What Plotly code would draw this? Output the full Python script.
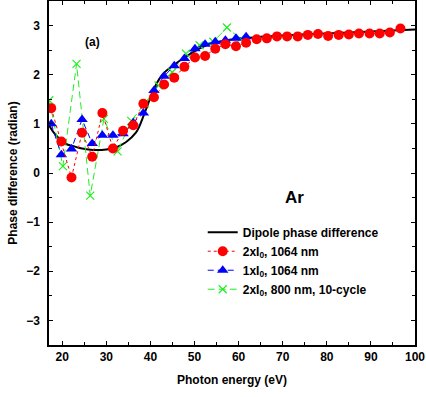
import plotly.graph_objects as go

# Dipole phase difference (black curve)
dip_e = [17, 18, 19.4, 20.9, 22.4, 23.9, 26.9, 30, 32.2, 34.5, 36.7, 37.5, 38.3, 39.2, 40.3, 41.4, 42.9, 45.2, 47.4, 50.5, 52.7, 55.7, 58, 65, 70, 80, 90, 100]
dip_v = [0.97, 0.83, 0.69, 0.59, 0.55, 0.51, 0.47, 0.48, 0.52, 0.63, 0.82, 0.95, 1.13, 1.34, 1.61, 1.82, 2.02, 2.19, 2.33, 2.50, 2.60, 2.67, 2.71, 2.77, 2.8, 2.84, 2.88, 2.92]

# 2xI0, 1064 nm (red circles)
red_e = [17.5, 19.8, 22.1, 24.5, 26.8, 29.1, 31.5, 33.8, 36.1, 38.4, 40.8, 43.1, 45.4, 47.7,
         50.1, 52.4, 54.7, 57.0, 59.4, 61.7, 64.1, 66.4, 68.7, 71.0, 73.4, 75.7, 78.0, 80.3,
         82.7, 85.0, 87.3, 89.7, 92.0, 94.3, 96.7]
red_v = [1.32, 0.64, -0.09, 0.82, 0.33, 1.22, 0.50, 0.86, 0.97, 1.41, 1.54, 1.80, 1.94, 2.16,
         2.35, 2.38, 2.53, 2.62, 2.58, 2.65, 2.72, 2.74, 2.78, 2.78, 2.78, 2.81, 2.83, 2.79,
         2.81, 2.82, 2.84, 2.84, 2.84, 2.86, 2.94]

# 1xI0, 1064 nm (blue triangles)
blue_e = [17.5, 19.8, 22.1, 24.5, 26.8, 29.1, 31.5, 33.8, 36.1, 38.4, 40.8, 43.1, 45.4, 47.7,
          50.1, 52.4, 54.7, 57.0, 59.4, 61.7]
blue_v = [1.0, 0.37, 0.49, 1.09, 0.60, 0.77, 0.77, 0.80, 1.02, 1.22, 1.68, 1.97, 2.18, 2.33,
          2.53, 2.62, 2.67, 2.70, 2.74, 2.77]

# 2xI0, 800 nm, 10-cycle (green crosses)
green_e = [17.05, 20.15, 23.25, 26.35, 29.45, 32.55, 35.65, 38.75, 41.85, 44.95, 48.05, 51.15, 54.25, 57.35, 60.45]
green_v = [1.48, 0.14, 2.22, -0.46, 1.10, 0.44, 1.06, 1.42, 1.78, 2.05, 2.43, 2.6, 2.67, 2.96, 2.73]

FONT = "Liberation Sans, Arial, sans-serif"

fig = go.Figure()
fig.add_trace(go.Scatter(x=dip_e, y=dip_v, mode="lines", line=dict(color="black", width=2, shape="spline", smoothing=1.0),
                         name="Dipole phase difference", legendrank=1))
fig.add_trace(go.Scatter(x=green_e, y=green_v, mode="lines+markers",
                         line=dict(color="#22ee22", width=1, dash="7px,4px"),
                         marker=dict(symbol="x-thin", size=8, line=dict(color="#22ee22", width=1.2)),
                         name="2xI<sub>0</sub>, 800 nm, 10-cycle", legendrank=4))
fig.add_trace(go.Scatter(x=blue_e, y=blue_v, mode="lines+markers",
                         line=dict(color="#0000ff", width=1, dash="6px,4px"),
                         marker=dict(symbol="triangle-up", size=10, color="#0000ff"),
                         name="1xI<sub>0</sub>, 1064 nm", legendrank=3))
fig.add_trace(go.Scatter(x=red_e, y=red_v, mode="lines+markers",
                         line=dict(color="#ff0000", width=1, dash="dot"),
                         marker=dict(symbol="circle", size=10, color="#ff0000"),
                         name="2xI<sub>0</sub>, 1064 nm", legendrank=2))

axis_common = dict(showline=True, linecolor="black", linewidth=1.5, mirror="ticks",
                   ticks="inside", ticklen=4, tickwidth=1.2, tickcolor="black",
                   showgrid=False, zeroline=False, automargin=False,
                   tickfont=dict(family=FONT, size=12, color="black", weight="bold"))

fig.update_xaxes(range=[17, 100], dtick=10, tick0=0,
                 minor=dict(dtick=5, ticks="inside", ticklen=3, tickcolor="black", tickwidth=1),
                 title=dict(text="Photon energy (eV)", font=dict(family=FONT, size=12, color="black", weight="bold"), standoff=12),
                 **axis_common)
fig.update_yaxes(range=[-3.5, 3.5], dtick=1, tick0=0, ticklabelstandoff=5,
                 minor=dict(dtick=0.5, ticks="inside", ticklen=3, tickcolor="black", tickwidth=1),
                 title=dict(text="Phase difference (radian)", font=dict(family=FONT, size=12, color="black", weight="bold"), standoff=6),
                 **axis_common)

fig.add_annotation(x=26.8, y=2.66, text="(a)", showarrow=False,
                   font=dict(family=FONT, size=12, color="black", weight="bold"))
fig.add_annotation(x=72.7, y=-0.5, text="Ar", showarrow=False,
                   font=dict(family=FONT, size=17, color="black", weight="bold"))

fig.update_layout(
    width=426, height=397,
    margin=dict(l=49, r=11, t=1, b=52, autoexpand=False),
    plot_bgcolor="white", paper_bgcolor="white",
    font=dict(family=FONT, size=12, color="black"),
    legend=dict(x=0.42, y=0.37, xanchor="left", yanchor="top", bgcolor="rgba(0,0,0,0)",
                font=dict(family=FONT, size=12, color="black", weight="bold"),
                itemwidth=30, tracegroupgap=0),
    showlegend=True,
)

fig.write_html("out.html", config={"displayModeBar": False},
               post_script="document.body.style.margin='0px';")
